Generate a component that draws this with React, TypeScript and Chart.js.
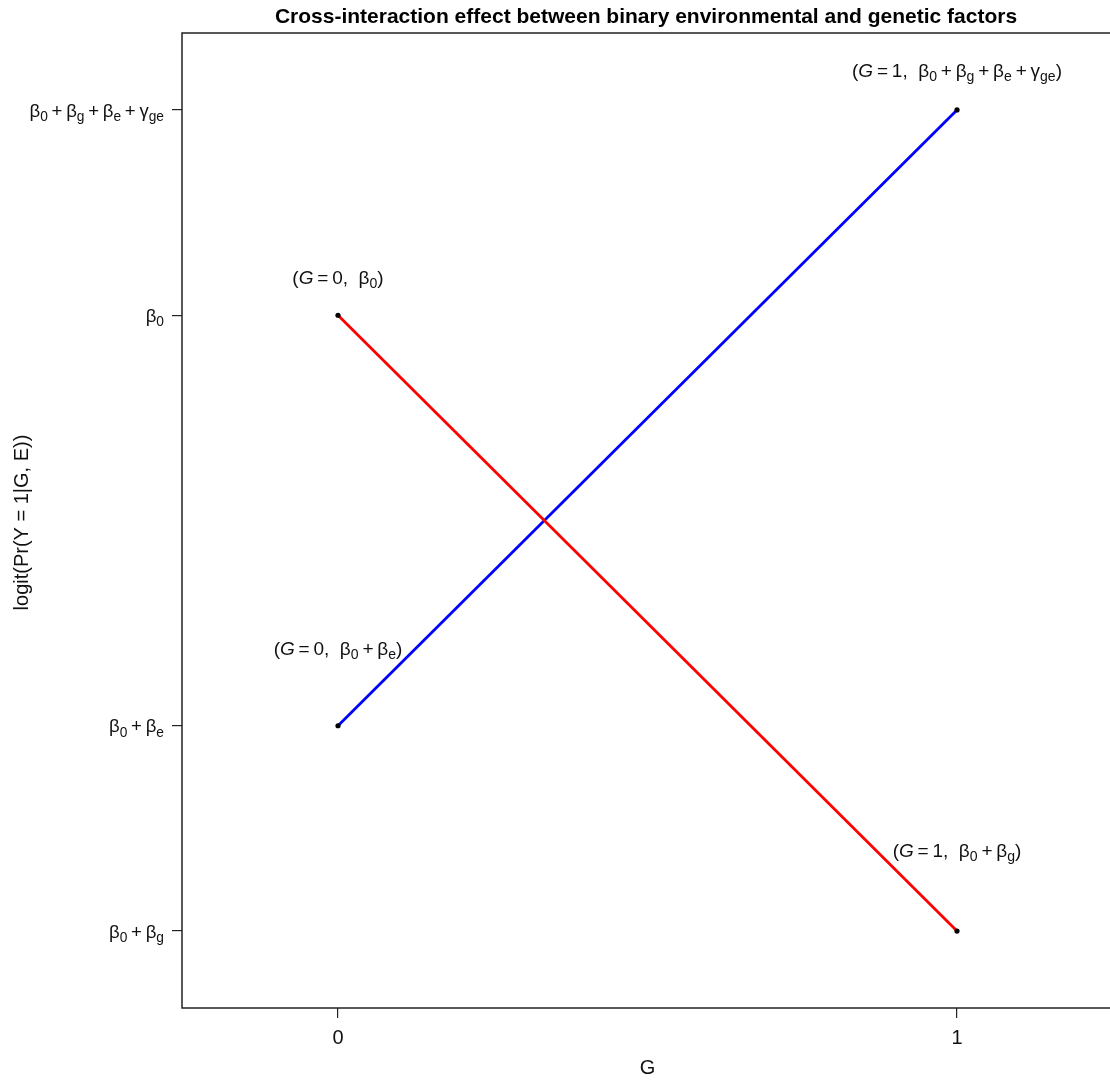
import React, { useEffect, useRef } from 'react';
import { Chart, registerables } from 'chart.js';

Chart.register(...registerables);

type Seg = [string, 'n' | 's' | 'i' | 'o'];

// G values and logit levels (β0 = 0, βe = -2, βg = -3, γge = 6)
const gValues = [0, 1];
const redSeries = [0, -3]; // E = 0: β0 -> β0+βg
const blueSeries = [-2, 1]; // E = 1: β0+βe -> β0+βg+βe+γge

const xTickValues = [0, 1];
const xTickLabels = ['0', '1'];

const yTickValues = [1, 0, -2, -3];
const yTickLabels: Seg[][] = [
  [['β', 'n'], ['0', 's'], ['+', 'o'], ['β', 'n'], ['g', 's'], ['+', 'o'], ['β', 'n'], ['e', 's'], ['+', 'o'], ['γ', 'n'], ['ge', 's']],
  [['β', 'n'], ['0', 's']],
  [['β', 'n'], ['0', 's'], ['+', 'o'], ['β', 'n'], ['e', 's']],
  [['β', 'n'], ['0', 's'], ['+', 'o'], ['β', 'n'], ['g', 's']],
];

// annotation anchors (data coords) and labels
const annX = [0, 0, 1, 1];
const annY = [0.185, -1.62, 1.195, -2.605];
const annLabels: Seg[][] = [
  [['(', 'n'], ['G', 'i'], ['=', 'o'], ['0,  ', 'n'], ['β', 'n'], ['0', 's'], [')', 'n']],
  [['(', 'n'], ['G', 'i'], ['=', 'o'], ['0,  ', 'n'], ['β', 'n'], ['0', 's'], ['+', 'o'], ['β', 'n'], ['e', 's'], [')', 'n']],
  [['(', 'n'], ['G', 'i'], ['=', 'o'], ['1,  ', 'n'], ['β', 'n'], ['0', 's'], ['+', 'o'], ['β', 'n'], ['g', 's'], ['+', 'o'], ['β', 'n'], ['e', 's'], ['+', 'o'], ['γ', 'n'], ['ge', 's'], [')', 'n']],
  [['(', 'n'], ['G', 'i'], ['=', 'o'], ['1,  ', 'n'], ['β', 'n'], ['0', 's'], ['+', 'o'], ['β', 'n'], ['g', 's'], [')', 'n']],
];

const titleText = 'Cross-interaction effect between binary environmental and genetic factors';
const xTitle = 'G';
const yTitle = 'logit(Pr(Y = 1|G, E))';

const FAMILY = '"Liberation Sans", Arial, sans-serif';
const TICK_SIZE = 18.6;
const ANN_SIZE = 19;
const AXIS_SIZE = 20;
const OP_PAD = 0.2;

function fontFor(kind: string, size: number) {
  if (kind === 's') return `${(size * 0.74).toFixed(2)}px ${FAMILY}`;
  if (kind === 'i') return `italic ${size}px ${FAMILY}`;
  return `${size}px ${FAMILY}`;
}

function segWidth(ctx: CanvasRenderingContext2D, seg: Seg, size: number) {
  ctx.font = fontFor(seg[1], size);
  const w = ctx.measureText(seg[0]).width;
  return seg[1] === 'o' ? w + 2 * OP_PAD * size : w;
}

function drawMath(ctx: CanvasRenderingContext2D, segs: Seg[], x: number, cy: number, size: number, align: 'left' | 'center' | 'right') {
  const w = segs.reduce((a, s) => a + segWidth(ctx, s, size), 0);
  let cx = align === 'left' ? x : align === 'center' ? x - w / 2 : x - w;
  const baseline = cy + size * 0.36;
  ctx.textAlign = 'left';
  ctx.textBaseline = 'alphabetic';
  for (const seg of segs) {
    const [t, k] = seg;
    const sw = segWidth(ctx, seg, size);
    ctx.font = fontFor(k, size);
    const dy = k === 's' ? size * 0.22 : 0;
    const dx = k === 'o' ? OP_PAD * size : 0;
    ctx.fillText(t, cx + dx, baseline + dy);
    cx += sw;
  }
}

const overlayPlugin = {
  id: 'overlay',
  afterDraw(chart: any) {
    const ctx: CanvasRenderingContext2D = chart.ctx;
    const area = chart.chartArea;
    const xs = chart.scales.x;
    const ys = chart.scales.y;
    ctx.save();
    // box
    ctx.strokeStyle = '#222';
    ctx.lineWidth = 1.5;
    ctx.strokeRect(area.left, area.top, area.right - area.left, area.bottom - area.top);
    ctx.fillStyle = '#111';
    // y tick labels
    yTickValues.forEach((v, i) => {
      drawMath(ctx, yTickLabels[i], area.left - 18, ys.getPixelForValue(v), TICK_SIZE, 'right');
    });
    // annotations
    annX.forEach((v, i) => {
      drawMath(ctx, annLabels[i], xs.getPixelForValue(v), ys.getPixelForValue(annY[i]), ANN_SIZE, 'center');
    });
    // title
    const midX = (area.left + area.right) / 2;
    ctx.font = `bold 21px ${FAMILY}`;
    ctx.textAlign = 'center';
    ctx.textBaseline = 'middle';
    ctx.fillStyle = '#000';
    ctx.fillText(titleText, 646, 17);
    // x title
    ctx.font = `${AXIS_SIZE}px ${FAMILY}`;
    ctx.fillStyle = '#111';
    ctx.fillText(xTitle, midX, 1068);
    // y title
    ctx.translate(22, (area.top + area.bottom) / 2 + 2);
    ctx.rotate(-Math.PI / 2);
    ctx.fillText(yTitle, 0, 0);
    ctx.restore();
  },
};

export default function App() {
  const canvasRef = useRef<HTMLCanvasElement | null>(null);

  useEffect(() => {
    const canvas = canvasRef.current;
    if (!canvas) return;
    const mk = (ys: number[]) => gValues.map((g, i) => ({ x: g, y: ys[i] }));
    const chart = new Chart(canvas, {
      type: 'line',
      data: {
        datasets: [
          {
            label: 'E = 0',
            data: mk(redSeries),
            borderColor: '#FF0000',
            borderWidth: 2.8,
            pointRadius: 2.6,
            pointBackgroundColor: '#000',
            pointBorderWidth: 0,
            pointHoverRadius: 2.6,
          },
          {
            label: 'E = 1',
            data: mk(blueSeries),
            borderColor: '#0000FF',
            borderWidth: 2.8,
            pointRadius: 2.6,
            pointBackgroundColor: '#000',
            pointBorderWidth: 0,
            pointHoverRadius: 2.6,
          },
        ],
      },
      options: {
        responsive: false,
        animation: false,
        events: [],
        layout: { padding: { top: 33, right: 17, left: 0, bottom: 0 } },
        plugins: {
          legend: { display: false },
          tooltip: { enabled: false },
          title: { display: false },
        },
        scales: {
          x: {
            type: 'linear',
            min: -0.252,
            max: 1.252,
            border: { display: false },
            grid: { display: true, drawOnChartArea: false, drawTicks: true, tickLength: 10, color: '#222', lineWidth: 1.2 },
            ticks: {
              color: '#111',
              font: { family: FAMILY, size: AXIS_SIZE },
              padding: 8,
              maxRotation: 0,
              callback: (v: any) => {
                const i = xTickValues.indexOf(Number(v));
                return i >= 0 ? xTickLabels[i] : '';
              },
            },
            afterBuildTicks: (s: any) => {
              s.ticks = xTickValues.map((v) => ({ value: v }));
            },
            afterFit: (s: any) => {
              s.height = 74;
            },
          },
          y: {
            type: 'linear',
            min: -3.375,
            max: 1.375,
            border: { display: false },
            grid: { display: true, drawOnChartArea: false, drawTicks: true, tickLength: 10, color: '#222', lineWidth: 1.2 },
            ticks: { display: false },
            afterBuildTicks: (s: any) => {
              s.ticks = yTickValues.map((v) => ({ value: v }));
            },
            afterFit: (s: any) => {
              s.width = 182;
            },
          },
        },
      },
      plugins: [overlayPlugin],
    } as any);
    return () => chart.destroy();
  }, []);

  return (
    <div style={{ position: 'fixed', left: 0, top: 0, width: 1110, height: 1082, overflow: 'hidden', background: '#fff' }}>
      <canvas ref={canvasRef} width={1130} height={1082} style={{ width: 1130, height: 1082, display: 'block' }} />
    </div>
  );
}
